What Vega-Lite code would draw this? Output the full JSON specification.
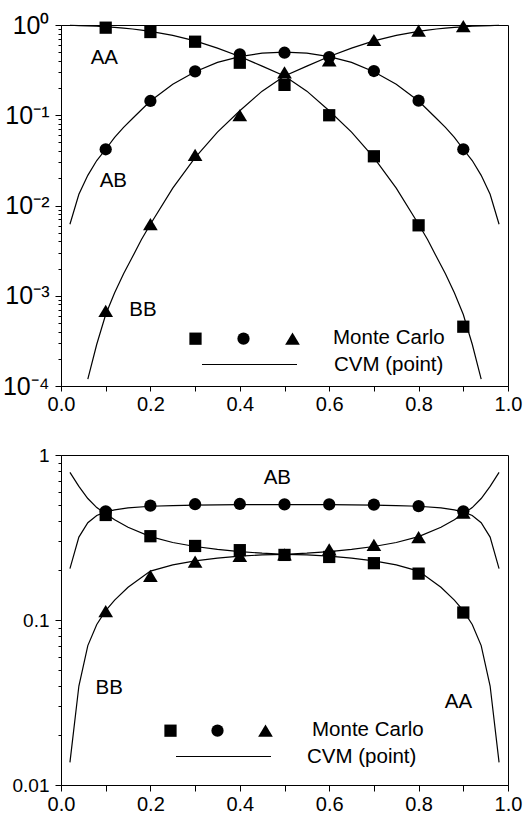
{
  "$schema": "https://vega.github.io/schema/vega-lite/v6.json",
  "padding": {"left": 1, "top": 12, "right": 4, "bottom": 0},
  "background": "white",
  "config": {
    "font": "Liberation Sans",
    "view": {"stroke": "black", "strokeWidth": 1},
    "axis": {"domainColor": "black", "tickColor": "black", "labelColor": "black", "grid": false, "labelFont": "Liberation Sans", "title": null, "domainWidth": 1, "tickWidth": 1, "labelOverlap": false},
    "legend": {"labelFont": "Liberation Sans", "titleFont": "Liberation Sans", "labelColor": "black", "titleColor": "black", "padding": 0}
  },
  "datasets": {
    "topCurves": [
      {"x": 0.02, "v": 0.9938, "g": "AA"}, {"x": 0.04, "v": 0.9866, "g": "AA"}, {"x": 0.06, "v": 0.9783, "g": "AA"}, {"x": 0.08, "v": 0.968, "g": "AA"}, {"x": 0.10, "v": 0.9535, "g": "AA"}, {"x": 0.12, "v": 0.939, "g": "AA"}, {"x": 0.14, "v": 0.9216, "g": "AA"}, {"x": 0.16, "v": 0.9025, "g": "AA"}, {"x": 0.18, "v": 0.878, "g": "AA"}, {"x": 0.20, "v": 0.85, "g": "AA"}, {"x": 0.25, "v": 0.766, "g": "AA"}, {"x": 0.30, "v": 0.666, "g": "AA"}, {"x": 0.35, "v": 0.555, "g": "AA"}, {"x": 0.40, "v": 0.447, "g": "AA"}, {"x": 0.45, "v": 0.35, "g": "AA"}, {"x": 0.50, "v": 0.272, "g": "AA"}, {"x": 0.55, "v": 0.185, "g": "AA"}, {"x": 0.60, "v": 0.112, "g": "AA"}, {"x": 0.65, "v": 0.065, "g": "AA"}, {"x": 0.70, "v": 0.0339, "g": "AA"}, {"x": 0.75, "v": 0.0156, "g": "AA"}, {"x": 0.80, "v": 0.0062, "g": "AA"}, {"x": 0.82, "v": 0.0042, "g": "AA"}, {"x": 0.84, "v": 0.0027, "g": "AA"}, {"x": 0.86, "v": 0.00175, "g": "AA"}, {"x": 0.88, "v": 0.00108, "g": "AA"}, {"x": 0.90, "v": 0.00062, "g": "AA"}, {"x": 0.92, "v": 0.00029, "g": "AA"}, {"x": 0.94, "v": 0.000119, "g": "AA"},
      {"x": 0.02, "v": 0.0062, "g": "AB"}, {"x": 0.04, "v": 0.0133, "g": "AB"}, {"x": 0.06, "v": 0.0216, "g": "AB"}, {"x": 0.08, "v": 0.0315, "g": "AB"}, {"x": 0.10, "v": 0.042, "g": "AB"}, {"x": 0.12, "v": 0.057, "g": "AB"}, {"x": 0.14, "v": 0.0735, "g": "AB"}, {"x": 0.16, "v": 0.092, "g": "AB"}, {"x": 0.18, "v": 0.115, "g": "AB"}, {"x": 0.20, "v": 0.144, "g": "AB"}, {"x": 0.25, "v": 0.22, "g": "AB"}, {"x": 0.30, "v": 0.303, "g": "AB"}, {"x": 0.35, "v": 0.385, "g": "AB"}, {"x": 0.40, "v": 0.447, "g": "AB"}, {"x": 0.45, "v": 0.487, "g": "AB"}, {"x": 0.50, "v": 0.50, "g": "AB"}, {"x": 0.55, "v": 0.487, "g": "AB"}, {"x": 0.60, "v": 0.447, "g": "AB"}, {"x": 0.65, "v": 0.385, "g": "AB"}, {"x": 0.70, "v": 0.303, "g": "AB"}, {"x": 0.75, "v": 0.22, "g": "AB"}, {"x": 0.80, "v": 0.144, "g": "AB"}, {"x": 0.82, "v": 0.115, "g": "AB"}, {"x": 0.84, "v": 0.092, "g": "AB"}, {"x": 0.86, "v": 0.0735, "g": "AB"}, {"x": 0.88, "v": 0.057, "g": "AB"}, {"x": 0.90, "v": 0.042, "g": "AB"}, {"x": 0.92, "v": 0.0315, "g": "AB"}, {"x": 0.94, "v": 0.0216, "g": "AB"}, {"x": 0.96, "v": 0.0133, "g": "AB"}, {"x": 0.98, "v": 0.0062, "g": "AB"},
      {"x": 0.06, "v": 0.000119, "g": "BB"}, {"x": 0.08, "v": 0.00029, "g": "BB"}, {"x": 0.10, "v": 0.00062, "g": "BB"}, {"x": 0.12, "v": 0.00108, "g": "BB"}, {"x": 0.14, "v": 0.00175, "g": "BB"}, {"x": 0.16, "v": 0.0027, "g": "BB"}, {"x": 0.18, "v": 0.0042, "g": "BB"}, {"x": 0.20, "v": 0.0062, "g": "BB"}, {"x": 0.25, "v": 0.0156, "g": "BB"}, {"x": 0.30, "v": 0.0339, "g": "BB"}, {"x": 0.35, "v": 0.065, "g": "BB"}, {"x": 0.40, "v": 0.112, "g": "BB"}, {"x": 0.45, "v": 0.185, "g": "BB"}, {"x": 0.50, "v": 0.272, "g": "BB"}, {"x": 0.55, "v": 0.35, "g": "BB"}, {"x": 0.60, "v": 0.447, "g": "BB"}, {"x": 0.65, "v": 0.555, "g": "BB"}, {"x": 0.70, "v": 0.666, "g": "BB"}, {"x": 0.75, "v": 0.766, "g": "BB"}, {"x": 0.80, "v": 0.85, "g": "BB"}, {"x": 0.82, "v": 0.878, "g": "BB"}, {"x": 0.84, "v": 0.9025, "g": "BB"}, {"x": 0.86, "v": 0.9216, "g": "BB"}, {"x": 0.88, "v": 0.939, "g": "BB"}, {"x": 0.90, "v": 0.9535, "g": "BB"}, {"x": 0.92, "v": 0.968, "g": "BB"}, {"x": 0.94, "v": 0.9783, "g": "BB"}, {"x": 0.96, "v": 0.9866, "g": "BB"}, {"x": 0.98, "v": 0.9938, "g": "BB"}
    ],
    "topPoints": [
      {"x": 0.1, "v": 0.934, "g": "AA"}, {"x": 0.2, "v": 0.836, "g": "AA"}, {"x": 0.3, "v": 0.653, "g": "AA"}, {"x": 0.4, "v": 0.382, "g": "AA"}, {"x": 0.5, "v": 0.217, "g": "AA"}, {"x": 0.6, "v": 0.100, "g": "AA"}, {"x": 0.7, "v": 0.0351, "g": "AA"}, {"x": 0.8, "v": 0.00603, "g": "AA"}, {"x": 0.9, "v": 0.000454, "g": "AA"},
      {"x": 0.1, "v": 0.042, "g": "AB"}, {"x": 0.2, "v": 0.144, "g": "AB"}, {"x": 0.3, "v": 0.306, "g": "AB"}, {"x": 0.4, "v": 0.473, "g": "AB"}, {"x": 0.5, "v": 0.493, "g": "AB"}, {"x": 0.6, "v": 0.442, "g": "AB"}, {"x": 0.7, "v": 0.309, "g": "AB"}, {"x": 0.8, "v": 0.145, "g": "AB"}, {"x": 0.9, "v": 0.042, "g": "AB"},
      {"x": 0.1, "v": 0.00068, "g": "BB"}, {"x": 0.2, "v": 0.0062, "g": "BB"}, {"x": 0.3, "v": 0.0363, "g": "BB"}, {"x": 0.4, "v": 0.100, "g": "BB"}, {"x": 0.5, "v": 0.298, "g": "BB"}, {"x": 0.6, "v": 0.406, "g": "BB"}, {"x": 0.7, "v": 0.682, "g": "BB"}, {"x": 0.8, "v": 0.865, "g": "BB"}, {"x": 0.9, "v": 0.972, "g": "BB"}
    ],
    "botCurves": [
      {"x": 0.02, "v": 0.785, "g": "AA"}, {"x": 0.04, "v": 0.645, "g": "AA"}, {"x": 0.06, "v": 0.545, "g": "AA"}, {"x": 0.08, "v": 0.48, "g": "AA"}, {"x": 0.10, "v": 0.44, "g": "AA"}, {"x": 0.12, "v": 0.405, "g": "AA"}, {"x": 0.15, "v": 0.365, "g": "AA"}, {"x": 0.20, "v": 0.32, "g": "AA"}, {"x": 0.25, "v": 0.295, "g": "AA"}, {"x": 0.30, "v": 0.279, "g": "AA"}, {"x": 0.35, "v": 0.268, "g": "AA"}, {"x": 0.40, "v": 0.26, "g": "AA"}, {"x": 0.45, "v": 0.254, "g": "AA"}, {"x": 0.50, "v": 0.25, "g": "AA"}, {"x": 0.55, "v": 0.248, "g": "AA"}, {"x": 0.60, "v": 0.244, "g": "AA"}, {"x": 0.65, "v": 0.237, "g": "AA"}, {"x": 0.70, "v": 0.228, "g": "AA"}, {"x": 0.75, "v": 0.216, "g": "AA"}, {"x": 0.80, "v": 0.198, "g": "AA"}, {"x": 0.85, "v": 0.158, "g": "AA"}, {"x": 0.88, "v": 0.132, "g": "AA"}, {"x": 0.90, "v": 0.114, "g": "AA"}, {"x": 0.92, "v": 0.094, "g": "AA"}, {"x": 0.94, "v": 0.070, "g": "AA"}, {"x": 0.96, "v": 0.0398, "g": "AA"}, {"x": 0.98, "v": 0.0137, "g": "AA"},
      {"x": 0.02, "v": 0.205, "g": "AB"}, {"x": 0.04, "v": 0.318, "g": "AB"}, {"x": 0.06, "v": 0.389, "g": "AB"}, {"x": 0.08, "v": 0.43, "g": "AB"}, {"x": 0.10, "v": 0.452, "g": "AB"}, {"x": 0.12, "v": 0.465, "g": "AB"}, {"x": 0.15, "v": 0.478, "g": "AB"}, {"x": 0.20, "v": 0.489, "g": "AB"}, {"x": 0.25, "v": 0.494, "g": "AB"}, {"x": 0.30, "v": 0.497, "g": "AB"}, {"x": 0.35, "v": 0.499, "g": "AB"}, {"x": 0.40, "v": 0.5, "g": "AB"}, {"x": 0.45, "v": 0.5, "g": "AB"}, {"x": 0.50, "v": 0.5, "g": "AB"}, {"x": 0.55, "v": 0.5, "g": "AB"}, {"x": 0.60, "v": 0.5, "g": "AB"}, {"x": 0.65, "v": 0.499, "g": "AB"}, {"x": 0.70, "v": 0.497, "g": "AB"}, {"x": 0.75, "v": 0.494, "g": "AB"}, {"x": 0.80, "v": 0.489, "g": "AB"}, {"x": 0.85, "v": 0.478, "g": "AB"}, {"x": 0.88, "v": 0.465, "g": "AB"}, {"x": 0.90, "v": 0.452, "g": "AB"}, {"x": 0.92, "v": 0.43, "g": "AB"}, {"x": 0.94, "v": 0.389, "g": "AB"}, {"x": 0.96, "v": 0.318, "g": "AB"}, {"x": 0.98, "v": 0.205, "g": "AB"},
      {"x": 0.02, "v": 0.0137, "g": "BB"}, {"x": 0.04, "v": 0.0398, "g": "BB"}, {"x": 0.06, "v": 0.070, "g": "BB"}, {"x": 0.08, "v": 0.094, "g": "BB"}, {"x": 0.10, "v": 0.114, "g": "BB"}, {"x": 0.12, "v": 0.132, "g": "BB"}, {"x": 0.15, "v": 0.158, "g": "BB"}, {"x": 0.20, "v": 0.198, "g": "BB"}, {"x": 0.25, "v": 0.216, "g": "BB"}, {"x": 0.30, "v": 0.228, "g": "BB"}, {"x": 0.35, "v": 0.237, "g": "BB"}, {"x": 0.40, "v": 0.244, "g": "BB"}, {"x": 0.45, "v": 0.248, "g": "BB"}, {"x": 0.50, "v": 0.25, "g": "BB"}, {"x": 0.55, "v": 0.254, "g": "BB"}, {"x": 0.60, "v": 0.26, "g": "BB"}, {"x": 0.65, "v": 0.268, "g": "BB"}, {"x": 0.70, "v": 0.279, "g": "BB"}, {"x": 0.75, "v": 0.295, "g": "BB"}, {"x": 0.80, "v": 0.32, "g": "BB"}, {"x": 0.85, "v": 0.365, "g": "BB"}, {"x": 0.88, "v": 0.405, "g": "BB"}, {"x": 0.90, "v": 0.44, "g": "BB"}, {"x": 0.92, "v": 0.48, "g": "BB"}, {"x": 0.94, "v": 0.545, "g": "BB"}, {"x": 0.96, "v": 0.645, "g": "BB"}, {"x": 0.98, "v": 0.785, "g": "BB"}
    ],
    "botPoints": [
      {"x": 0.1, "v": 0.433, "g": "AA"}, {"x": 0.2, "v": 0.322, "g": "AA"}, {"x": 0.3, "v": 0.281, "g": "AA"}, {"x": 0.4, "v": 0.265, "g": "AA"}, {"x": 0.5, "v": 0.248, "g": "AA"}, {"x": 0.6, "v": 0.241, "g": "AA"}, {"x": 0.7, "v": 0.221, "g": "AA"}, {"x": 0.8, "v": 0.191, "g": "AA"}, {"x": 0.9, "v": 0.111, "g": "AA"},
      {"x": 0.1, "v": 0.455, "g": "AB"}, {"x": 0.2, "v": 0.493, "g": "AB"}, {"x": 0.3, "v": 0.503, "g": "AB"}, {"x": 0.4, "v": 0.505, "g": "AB"}, {"x": 0.5, "v": 0.502, "g": "AB"}, {"x": 0.6, "v": 0.502, "g": "AB"}, {"x": 0.7, "v": 0.5, "g": "AB"}, {"x": 0.8, "v": 0.49, "g": "AB"}, {"x": 0.9, "v": 0.456, "g": "AB"},
      {"x": 0.1, "v": 0.113, "g": "BB"}, {"x": 0.2, "v": 0.185, "g": "BB"}, {"x": 0.3, "v": 0.226, "g": "BB"}, {"x": 0.4, "v": 0.245, "g": "BB"}, {"x": 0.5, "v": 0.25, "g": "BB"}, {"x": 0.6, "v": 0.268, "g": "BB"}, {"x": 0.7, "v": 0.285, "g": "BB"}, {"x": 0.8, "v": 0.318, "g": "BB"}, {"x": 0.9, "v": 0.447, "g": "BB"}
    ]
  },
  "spacing": 30,
  "resolve": {
    "scale": {"x": "independent", "y": "independent", "shape": "independent", "color": "independent"},
    "legend": {"shape": "independent", "color": "independent"}
  },
  "vconcat": [
    {
      "width": 447,
      "height": 361,
      "layer": [
        {
          "data": {"name": "topCurves"},
          "mark": {"type": "line", "strokeWidth": 1.2},
          "encoding": {
            "x": {"field": "x", "type": "quantitative", "scale": {"domain": [0, 1], "nice": false},
              "axis": {"values": [0, 0.1, 0.2, 0.3, 0.4, 0.5, 0.6, 0.7, 0.8, 0.9, 1], "labelExpr": "round(datum.value*10)%2==0 ? format(datum.value,'.1f') : ''", "labelFlush": false, "tickSize": 5, "labelFontSize": 20, "labelPadding": 3}},
            "y": {"field": "v", "type": "quantitative", "scale": {"type": "log", "domain": [0.0001, 1], "nice": false},
              "axis": {"values": [0.0001, 0.0002, 0.0003, 0.0004, 0.0005, 0.0006, 0.0007, 0.0008, 0.0009, 0.001, 0.002, 0.003, 0.004, 0.005, 0.006, 0.007, 0.008, 0.009, 0.01, 0.02, 0.03, 0.04, 0.05, 0.06, 0.07, 0.08, 0.09, 0.1, 0.2, 0.3, 0.4, 0.5, 0.6, 0.7, 0.8, 0.9, 1],
                "labelExpr": "datum.value==1?'10⁰':datum.value==0.1?'10⁻¹':datum.value==0.01?'10⁻²':datum.value==0.001?'10⁻³':datum.value==0.0001?'10⁻⁴':''",
                "tickSize": {"condition": {"test": "datum.value==1||datum.value==0.1||datum.value==0.01||datum.value==0.001||datum.value==0.0001", "value": 6}, "value": 3},
                "labelFontSize": 25, "labelPadding": 6}},
            "detail": {"field": "g"},
            "color": {"datum": "CVM (point)", "type": "nominal", "scale": {"range": ["black"]},
              "legend": {"orient": "none", "legendX": 140, "legendY": 291, "title": null, "symbolType": "stroke", "symbolSize": 9025, "symbolStrokeWidth": 1.2, "symbolStrokeColor": "black", "labelFontSize": 20.5, "labelOffset": 36, "labelBaseline": "middle"}}
          }
        },
        {
          "data": {"name": "topPoints"},
          "mark": {"type": "point", "filled": true, "opacity": 1, "color": "black", "size": 150},
          "encoding": {
            "x": {"field": "x", "type": "quantitative"},
            "y": {"field": "v", "type": "quantitative"},
            "shape": {"field": "g", "type": "nominal", "scale": {"domain": ["AA", "AB", "BB"], "range": ["square", "circle", "M0,-1L1.2,1L-1.2,1Z"]},
              "legend": {"orient": "none", "legendX": 128, "legendY": 307, "direction": "horizontal", "title": "Monte Carlo", "titleOrient": "right", "titleFontSize": 20.5, "titleFontWeight": "normal", "titlePadding": 33, "titleBaseline": "middle", "titleAnchor": "middle", "labelExpr": "''", "labelOffset": 0, "labelFontSize": 12, "columnPadding": 35, "symbolSize": 150, "symbolFillColor": "black", "symbolStrokeWidth": 0}}
          }
        },
        {"data": {"values": [{}]}, "mark": {"type": "text", "text": "AA", "fontSize": 20.5, "color": "black"}, "encoding": {"x": {"datum": 0.097}, "y": {"datum": 0.431}}},
        {"data": {"values": [{}]}, "mark": {"type": "text", "text": "AB", "fontSize": 20.5, "color": "black"}, "encoding": {"x": {"datum": 0.117}, "y": {"datum": 0.0187}}},
        {"data": {"values": [{}]}, "mark": {"type": "text", "text": "BB", "fontSize": 20.5, "color": "black"}, "encoding": {"x": {"datum": 0.1835}, "y": {"datum": 0.000695}}}
      ]
    },
    {
      "width": 447,
      "height": 330,
      "layer": [
        {
          "data": {"name": "botCurves"},
          "mark": {"type": "line", "strokeWidth": 1.2},
          "encoding": {
            "x": {"field": "x", "type": "quantitative", "scale": {"domain": [0, 1], "nice": false},
              "axis": {"values": [0, 0.1, 0.2, 0.3, 0.4, 0.5, 0.6, 0.7, 0.8, 0.9, 1], "labelExpr": "round(datum.value*10)%2==0 ? format(datum.value,'.1f') : ''", "labelFlush": false, "tickSize": 6, "labelFontSize": 20, "labelPadding": 3}},
            "y": {"field": "v", "type": "quantitative", "scale": {"type": "log", "domain": [0.01, 1], "nice": false},
              "axis": {"values": [0.01, 0.02, 0.03, 0.04, 0.05, 0.06, 0.07, 0.08, 0.09, 0.1, 0.2, 0.3, 0.4, 0.5, 0.6, 0.7, 0.8, 0.9, 1],
                "labelExpr": "datum.value==1?'1':datum.value==0.1?'0.1':datum.value==0.01?'0.01':''",
                "tickSize": {"condition": {"test": "datum.value==1||datum.value==0.1||datum.value==0.01", "value": 6}, "value": 3},
                "labelFontSize": 19, "labelPadding": 6}},
            "detail": {"field": "g"},
            "color": {"datum": "CVM (point)", "type": "nominal", "scale": {"range": ["black"]},
              "legend": {"orient": "none", "legendX": 114, "legendY": 253, "title": null, "symbolType": "stroke", "symbolSize": 9025, "symbolStrokeWidth": 1.2, "symbolStrokeColor": "black", "labelFontSize": 20.5, "labelOffset": 35, "labelBaseline": "middle"}}
          }
        },
        {
          "data": {"name": "botPoints"},
          "mark": {"type": "point", "filled": true, "opacity": 1, "color": "black", "size": 150},
          "encoding": {
            "x": {"field": "x", "type": "quantitative"},
            "y": {"field": "v", "type": "quantitative"},
            "shape": {"field": "g", "type": "nominal", "scale": {"domain": ["AA", "AB", "BB"], "range": ["square", "circle", "M0,-1L1.2,1L-1.2,1Z"]},
              "legend": {"orient": "none", "legendX": 103, "legendY": 269, "direction": "horizontal", "title": "Monte Carlo", "titleOrient": "right", "titleFontSize": 20.5, "titleFontWeight": "normal", "titlePadding": 39, "titleBaseline": "middle", "titleAnchor": "middle", "labelExpr": "''", "labelOffset": 0, "labelFontSize": 12, "columnPadding": 34, "symbolSize": 150, "symbolFillColor": "black", "symbolStrokeWidth": 0}}
          }
        },
        {"data": {"values": [{}]}, "mark": {"type": "text", "text": "AB", "fontSize": 20.5, "color": "black"}, "encoding": {"x": {"datum": 0.484}, "y": {"datum": 0.726}}},
        {"data": {"values": [{}]}, "mark": {"type": "text", "text": "BB", "fontSize": 20.5, "color": "black"}, "encoding": {"x": {"datum": 0.108}, "y": {"datum": 0.0387}}},
        {"data": {"values": [{}]}, "mark": {"type": "text", "text": "AA", "fontSize": 20.5, "color": "black"}, "encoding": {"x": {"datum": 0.889}, "y": {"datum": 0.0318}}}
      ]
    }
  ]
}
